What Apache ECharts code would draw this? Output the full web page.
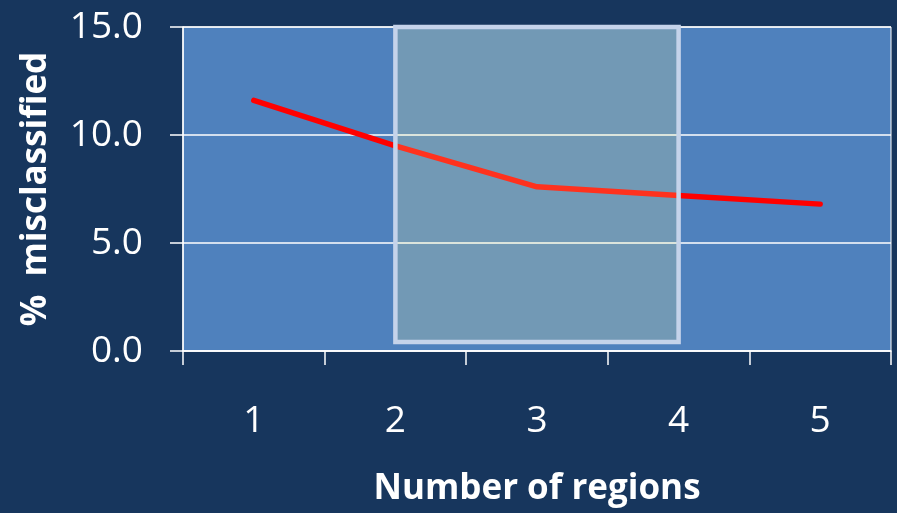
<!DOCTYPE html>
<html>
<head>
<meta charset="utf-8">
<script src="https://cdn.jsdelivr.net/npm/echarts@6/dist/echarts.min.js"></script>
<style>
  html, body { margin: 0; padding: 0; background: #17365d; }
  #chart { width: 897px; height: 513px; }
</style>
</head>
<body>
<div id="chart"></div>
<script>
// Misclassification rate by number of regions
const regions = ['1', '2', '3', '4', '5'];
const misclassified = [11.6, 9.5, 7.6, 7.2, 6.8];
const yTicks = [0, 5, 10, 15];
// Highlighted range of region counts and its vertical extent (% misclassified)
const highlightRegions = ['2', '4'];
const highlightSpan = [0.42, 15.07];

const FONT = '"Open Sans", "Liberation Sans", sans-serif';

const chart = echarts.init(document.getElementById('chart'), null, { renderer: 'canvas' });

chart.setOption({
  backgroundColor: '#17365d',
  animation: false,
  grid: {
    left: 183, right: 6, top: 27, bottom: 162,
    show: true,
    backgroundColor: '#4f81bd',
    borderColor: '#ffffff',
    borderWidth: 1
  },
  xAxis: {
    type: 'category',
    data: regions,
    boundaryGap: true,
    name: 'Number of regions',
    nameLocation: 'middle',
    nameGap: 121,
    nameTextStyle: { color: '#ffffff', fontFamily: FONT, fontSize: 35, fontWeight: 'bold', verticalAlign: 'top' },
    axisLine: { show: true, lineStyle: { color: '#ffffff', width: 1.5 } },
    axisTick: { show: true, alignWithLabel: false, length: 14, lineStyle: { color: '#ffffff', width: 1.5 } },
    axisLabel: { color: '#ffffff', fontFamily: FONT, fontSize: 37, margin: 52 },
    splitLine: { show: false }
  },
  yAxis: {
    type: 'value',
    min: yTicks[0],
    max: yTicks[yTicks.length - 1],
    interval: yTicks[1] - yTicks[0],
    name: '%  misclassified',
    nameLocation: 'middle',
    nameGap: 129,
    nameRotate: 90,
    nameTextStyle: { color: '#ffffff', fontFamily: FONT, fontSize: 35, fontWeight: 'bold' },
    axisLine: { show: true, lineStyle: { color: '#ffffff', width: 1.5 } },
    axisTick: { show: true, length: 13, lineStyle: { color: '#ffffff', width: 1.5 } },
    axisLabel: {
      color: '#ffffff', fontFamily: FONT, fontSize: 37, margin: 40,
      formatter: v => v.toFixed(1)
    },
    splitLine: { show: true, lineStyle: { color: '#ffffff', width: 1.5 } }
  },
  series: [
    {
      name: 'misclassified',
      type: 'line',
      data: misclassified,
      showSymbol: false,
      symbol: 'none',
      z: 2,
      lineStyle: { color: '#ff0000', width: 5.5, cap: 'round', join: 'round' }
    },
    {
      name: 'highlight',
      type: 'line',
      data: [],
      z: 10,
      zlevel: 1,
      markArea: {
        silent: true,
        z: 10,
        zlevel: 1,
        itemStyle: {
          color: 'rgba(255, 252, 150, 0.2)',
          borderColor: '#c5d3ea',
          borderWidth: 4.5
        },
        data: [[
          { xAxis: highlightRegions[0], yAxis: highlightSpan[1] },
          { xAxis: highlightRegions[1], yAxis: highlightSpan[0] }
        ]]
      }
    }
  ]
});
</script>
</body>
</html>
